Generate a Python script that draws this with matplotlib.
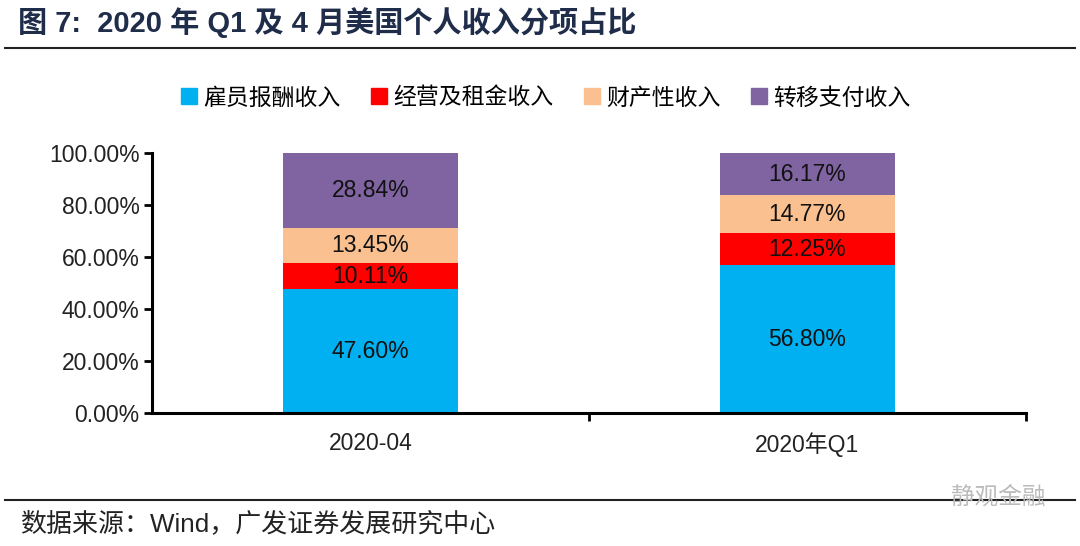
import matplotlib
matplotlib.use("Agg")
import matplotlib.pyplot as plt
import numpy as np
from matplotlib.lines import Line2D

plt.rcParams['font.family'] = ['Liberation Sans', 'Noto Sans CJK SC', 'DejaVu Sans']
plt.rcParams['axes.unicode_minus'] = False

# data
periods = ['2020-04', '2020年Q1']
series_names = ['雇员报酬收入', '经营及租金收入', '财产性收入', '转移支付收入']
wages = [47.60, 56.80]
business_rent = [10.11, 12.25]
property_income = [13.45, 14.77]
transfers = [28.84, 16.17]
yticks = [0, 20, 40, 60, 80, 100]

colors = ['#00B0F0', '#FF0000', '#FAC090', '#8064A2']
series = [wages, business_rent, property_income, transfers]

fig = plt.figure(figsize=(10.8, 5.46), dpi=100)
ax = fig.add_axes([152 / 1080, 1 - 413 / 546, 874 / 1080, 260 / 546])

x = np.arange(len(periods))
bottom = np.zeros(len(periods))
for name, vals, c in zip(series_names, series, colors):
    vals = np.array(vals)
    ax.bar(x, vals, width=0.4, bottom=bottom, color=c, label=name)
    for xi, b, v in zip(x, bottom, vals):
        ax.text(xi, b + v / 2, f'{v:.2f}%', ha='center', va='center',
                fontsize=16.5, color='#111111')
    bottom += vals

ax.set_xlim(-0.5, 1.5)
ax.set_ylim(0, 100)
ax.set_yticks(yticks)
ax.set_yticklabels([f'{t:.2f}%' for t in yticks], fontsize=16.5, color='#222222')
ax.set_xticks(x)
ax.set_xticklabels(periods, fontsize=16.5, color='#222222')
ax.xaxis.set_tick_params(length=0, pad=14)
# category boundary ticks on x axis
ax.set_xticks([0.5, 1.5], minor=True)
ax.tick_params(axis='x', which='minor', length=6, width=2, direction='out')
ax.tick_params(axis='y', length=6, width=2, direction='out', pad=3)

for s in ['top', 'right']:
    ax.spines[s].set_visible(False)
for s in ['left', 'bottom']:
    ax.spines[s].set_linewidth(2.2)
    ax.spines[s].set_color('black')

handles = [Line2D([0], [0], marker='s', linestyle='none', markersize=11,
                  markerfacecolor=c, markeredgecolor=c) for c in colors]
fig.legend(handles, series_names, loc='center', bbox_to_anchor=(544 / 1080, 1 - 98 / 546),
           ncol=4, frameon=False, handletextpad=0.1, handlelength=1.0,
           columnspacing=1.2, prop={'family': 'Noto Sans CJK SC', 'size': 16.5})

# title and rules
fig.text(18 / 1080, 1 - 23 / 546, '图 7:  2020 年 Q1 及 4 月美国个人收入分项占比',
         fontsize=21, fontweight='bold', color='#1F2D4A', va='center', ha='left')
fig.add_artist(Line2D([5 / 1080, 1075 / 1080], [1 - 48 / 546] * 2, color='#222222',
                      linewidth=1.5, transform=fig.transFigure))
fig.add_artist(Line2D([5 / 1080, 1075 / 1080], [1 - 500 / 546] * 2, color='#222222',
                      linewidth=1.5, transform=fig.transFigure))
fig.text(20 / 1080, 1 - 524 / 546, '数据来源：Wind，广发证券发展研究中心',
         fontsize=18.7, color='#222222', va='center', ha='left')
fig.text(1045 / 1080, 1 - 497 / 546, '静观金融', fontsize=17, color='#BBBBBB',
         va='center', ha='right', family=['Noto Sans CJK SC'])

fig.savefig('out.png', dpi=100)
